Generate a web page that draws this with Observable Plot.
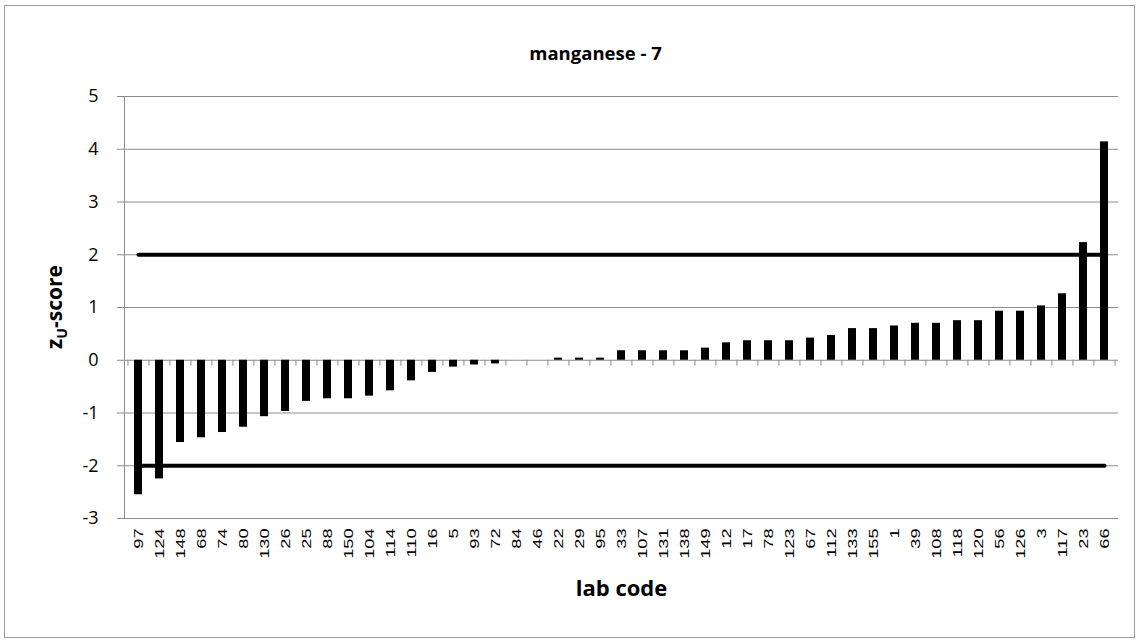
<!DOCTYPE html>
<html>
<head>
<meta charset="utf-8">
<script src="https://cdn.jsdelivr.net/npm/d3@7"></script>
<script src="https://cdn.jsdelivr.net/npm/@observablehq/plot@0.6"></script>
<style>
  html, body { margin: 0; padding: 0; background: #fff; }
  #chart { position: relative; width: 1139px; height: 642px; }
</style>
</head>
<body>
<div id="chart"></div>
<script>
// ---- data ----
const labs = ["97","124","148","68","74","80","130","26","25","88","150","104","114","110","16","5","93","72","84","46",
              "22","29","95","33","107","131","138","149","12","17","78","123","67","112","133","155","1","39","108","118",
              "120","56","126","3","117","23","66"];
const scores = [-2.55,-2.25,-1.56,-1.47,-1.37,-1.27,-1.07,-0.97,-0.78,-0.73,-0.73,-0.68,-0.58,-0.39,-0.23,-0.13,-0.09,-0.07,0,0,
                0.04,0.04,0.04,0.18,0.18,0.18,0.18,0.23,0.33,0.37,0.37,0.37,0.42,0.47,0.60,0.60,0.65,0.70,0.70,0.75,
                0.75,0.93,0.93,1.03,1.26,2.23,4.14];
const limits = [-2, 2];
const yTicks = [-3, -2, -1, 0, 1, 2, 3, 4, 5];
const title = "manganese - 7";
const xLabel = "lab code";

// ---- layout ----
const W = 1139, H = 642;
const mL = 124, mR = 21, mT = 96, mB = 124;
const plotW = W - mL - mR, plotH = H - mT - mB;
const step = plotW / labs.length;
const unitPx = plotH / (yTicks[yTicks.length - 1] - yTicks[0]);
const tickLenUnits = 6 / unitPx;

const bars = labs.map((lab, i) => ({lab, score: scores[i]}));
const limitLines = limits.flatMap(v => labs.map(lab => ({lab, v})));

const font = "'Open Sans', 'Liberation Sans', sans-serif";

const svg = Plot.plot({
  width: W, height: H,
  marginLeft: mL, marginRight: mR, marginTop: mT, marginBottom: mB,
  style: {fontFamily: font, background: "white", color: "black"},
  x: {type: "band", domain: labs, paddingInner: 0.62, paddingOuter: 0.31, label: null},
  y: {domain: [yTicks[0], yTicks[yTicks.length - 1]], ticks: yTicks, label: null},
  marks: [
    Plot.ruleY(yTicks, {stroke: "#8c8c8c", strokeWidth: 1, insetLeft: -7}),
    Plot.frame({anchor: "left", stroke: "#8c8c8c"}),
    Plot.ruleX(labs, {x: d => d, y1: 0, y2: -tickLenUnits, dx: -step / 2, stroke: "#8c8c8c"}),
    Plot.ruleX([labs[labs.length - 1]], {x: d => d, y1: 0, y2: -tickLenUnits, dx: step / 2, stroke: "#8c8c8c"}),
    Plot.barY(bars, {x: "lab", y: "score", fill: "black"}),
    Plot.line(limitLines, {x: "lab", y: "v", z: "v", stroke: "black", strokeWidth: 4}),
    Plot.axisY({ticks: yTicks, tickSize: 0, tickPadding: 26, fontSize: 18, tickFormat: d => String(d), label: null}),
    Plot.axisX({anchor: "bottom", tickSize: 0, tickPadding: 10, tickRotate: -90, fontSize: 13,
                fontFamily: "'Liberation Sans', Arial, sans-serif", label: null}),
    Plot.text([title], {frameAnchor: "top", dy: -50, dx: -26, fontSize: 18.5, fontWeight: "bold"}),
    Plot.text([xLabel], {frameAnchor: "bottom", dy: 77, fontSize: 22, fontWeight: "bold"})
  ]
});

// stretch rotated lab-code labels along their reading direction, as in the reference
d3.select(svg).selectAll('g[aria-label="x-axis tick label"] text').each(function () {
  const t = this.getAttribute("transform") || "";
  this.setAttribute("transform", t + " scale(1.4,1)");
});

// outer border
d3.select(svg).insert("rect", ":first-child")
  .attr("x", 4.5).attr("y", 5.5).attr("width", 1130).attr("height", 632)
  .attr("fill", "white").attr("stroke", "#9a9a9a");

// y label with subscript
const yl = d3.select(svg).append("text")
  .attr("transform", `translate(62,${mT + plotH * 0.5}) rotate(-90)`)
  .attr("text-anchor", "middle")
  .attr("font-size", 21).attr("font-weight", "bold").attr("fill", "black");
yl.append("tspan").text("z");
yl.append("tspan").attr("font-size", 14).attr("dy", 5).text("U");
yl.append("tspan").attr("dy", -5).text("-score");

document.getElementById("chart").append(svg);
</script>
</body>
</html>
